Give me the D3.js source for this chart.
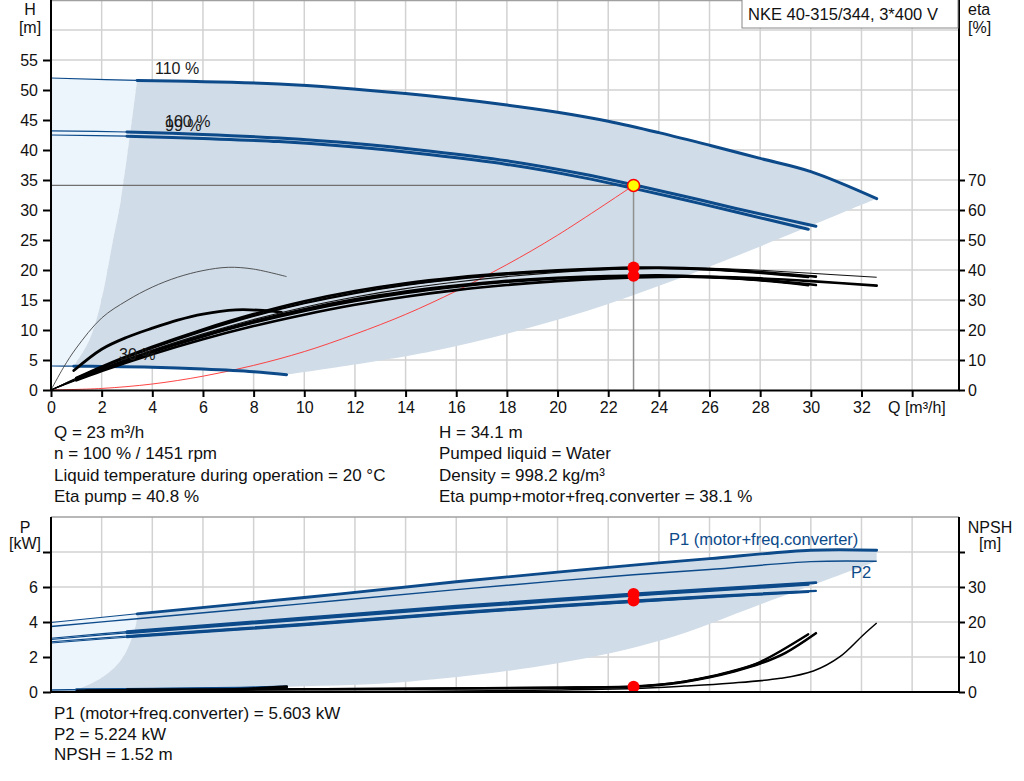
<!DOCTYPE html>
<html>
<head>
<meta charset="utf-8">
<script src="https://cdn.jsdelivr.net/npm/d3@7"></script>
<style>
  body { margin: 0; background: #fff; }
  text { font-family: "Liberation Sans", Arial, sans-serif; }
</style>
</head>
<body>
<div id="chart"></div>
<script>
// ---- data ----
const qTicks = [0, 2, 4, 6, 8, 10, 12, 14, 16, 18, 20, 22, 24, 26, 28, 30, 32, 34];
const hTicks = [0, 5, 10, 15, 20, 25, 30, 35, 40, 45, 50, 55];
const etaTicks = [0, 10, 20, 30, 40, 50, 60, 70];
const pTicks = [0, 2, 4, 6, 8];
const npshTicks = [0, 10, 20, 30, 40];

// Q-H curves [Q m3/h, H m]
const h110 = [[0, 52], [3.4, 51.6], [9, 51], [14, 49.4], [18, 47.5], [20, 46.3], [22, 44.8], [24, 42.9], [26, 40.8], [28, 38.6], [30, 36.4], [32.6, 31.9]];
const h100 = [[0, 43.2], [3, 43.0], [6, 42.6], [9, 42.0], [12, 41.1], [15, 39.8], [18, 38.2], [21, 36.0], [23, 34.2], [25, 32.3], [27, 30.3], [30.2, 27.3]];
const h99 = [[0, 42.5], [3, 42.3], [6, 41.9], [9, 41.4], [12, 40.5], [15, 39.2], [18, 37.6], [21, 35.4], [23, 33.6], [25, 31.7], [27, 29.7], [29.9, 26.8]];
const h30 = [[0, 4.0], [0.9, 3.97], [2, 3.93], [4, 3.8], [6, 3.5], [8, 3.05], [9.3, 2.55]];

// operating range edges
const minFlowH = [[0.9, 3.97], [1.51, 8.3], [1.93, 13.9], [2.45, 25], [2.76, 31.7], [3.4, 51.6]];
const maxFlowH = [[32.6, 31.9], [24.8, 18.6], [20, 11.7], [15, 6.4], [9.3, 2.55]];

// efficiency curves [Q, eta %]
const etaPump100 = [[0, 0], [1, 4], [2, 7.8], [4, 14.4], [6, 20.2], [8, 25.3], [10, 29.6], [12, 33], [14, 35.6], [16, 37.5], [18, 38.9], [20, 39.9], [22, 40.6], [23, 40.8], [24, 40.8], [26, 40.3], [28, 39.3], [30.2, 37.8]];
const etaPump99 = [[0, 0], [1, 3.9], [2, 7.6], [4, 14.0], [6, 19.7], [8, 24.7], [10, 28.9], [12, 32.3], [14, 35.0], [16, 37.0], [18, 38.5], [20, 39.6], [22, 40.3], [23, 40.5], [24, 40.6], [26, 40.1], [28, 39.0], [29.9, 37.6]];
const etaTotal100 = [[0, 0], [1, 3.5], [2, 6.9], [4, 12.9], [6, 18.2], [8, 22.9], [10, 26.9], [12, 30.2], [14, 32.8], [16, 34.8], [18, 36.4], [20, 37.4], [22, 38.0], [23, 38.1], [24, 38.2], [26, 37.7], [28, 36.7], [30.2, 35.0]];
const etaTotal99 = [[0, 0], [1, 3.4], [2, 6.7], [4, 12.6], [6, 17.8], [8, 22.4], [10, 26.3], [12, 29.6], [14, 32.3], [16, 34.4], [18, 36.0], [20, 37.1], [22, 37.7], [23, 37.9], [24, 37.9], [26, 37.5], [28, 36.5], [29.9, 34.9]];
const etaPump110 = [[0, 0], [1, 3.6], [2, 7.1], [4, 13.3], [6, 18.7], [8, 23.5], [10, 27.6], [12, 31.0], [14, 33.8], [16, 36.0], [18, 37.8], [20, 39.2], [22, 40.2], [24, 40.8], [26, 40.6], [28, 39.9], [30, 38.9], [32.6, 37.6]];
const etaTotal110 = [[0, 0], [1, 3.2], [2, 6.3], [4, 11.9], [6, 16.9], [8, 21.3], [10, 25.1], [12, 28.4], [14, 31.1], [16, 33.3], [18, 35.0], [20, 36.3], [22, 37.2], [24, 37.7], [26, 37.7], [28, 37.2], [30, 36.3], [32.6, 34.8]];
const etaPump30 = [[0, 0], [0.5, 7.6], [1, 14], [2, 24], [3, 29.8], [4, 34.3], [5, 37.6], [6, 39.8], [7, 40.9], [8, 40.3], [9.3, 37.8]];
const etaTotal30 = [[0.9, 6.5], [2, 13.6], [3, 17.6], [4, 20.6], [5, 23.3], [6, 25.3], [7.3, 26.7], [8.2, 26.6], [9.1, 25.9]];

// system curve [Q, H]
const sysCurve = [[0, 0], [2, 0.26], [4, 1.0], [6, 2.3], [8, 4.1], [10, 6.4], [12, 9.3], [14, 12.6], [16, 16.5], [18, 20.9], [20, 25.8], [23, 34.1]];

// duty point
const opQ = 23, opH = 34.1, opEtaPump = 40.8, opEtaTotal = 38.1;
const opP1 = 5.603, opP2 = 5.224, opNpsh = 1.52;

// power curves [Q, kW]
const p1_110 = [[0, 3.97], [3.4, 4.47], [10, 5.4], [16, 6.3], [20, 6.85], [23, 7.25], [26, 7.62], [30, 8.1], [32.6, 8.1]];
const p2_110 = [[0, 3.74], [3.4, 4.19], [10, 5.05], [16, 5.85], [20, 6.35], [23, 6.7], [26, 7.0], [30, 7.45], [32.6, 7.47]];
const p1_100 = [[0, 3.07], [3, 3.45], [10, 4.23], [16, 4.9], [20, 5.3], [23, 5.6], [26, 5.88], [30.2, 6.25]];
const p1_99 = [[0, 3.0], [3, 3.38], [10, 4.15], [16, 4.82], [20, 5.22], [23, 5.52], [26, 5.79], [29.9, 6.14]];
const p2_100 = [[0, 2.87], [3, 3.2], [10, 3.89], [16, 4.55], [20, 4.95], [23, 5.22], [26, 5.48], [30.2, 5.78]];
const p2_99 = [[0, 2.8], [3, 3.13], [10, 3.82], [16, 4.47], [20, 4.87], [23, 5.14], [26, 5.4], [29.9, 5.72]];
const p_30 = [[0, 0.12], [1, 0.13], [4, 0.16], [7.5, 0.22], [9.3, 0.28]];

const minFlowP = [[1.0, 0.13], [1.14, 0.2], [2.07, 0.88], [2.85, 2.0], [3.38, 4.0], [3.4, 4.47]];
const maxFlowP = [[32.6, 7.47], [28, 5.0], [24.2, 3.0], [20, 1.64], [14.2, 0.6], [9.3, 0.3], [1.0, 0.13]];

// NPSH curves [Q, m]
const npsh100 = [[1, 0.5], [3, 0.6], [10, 0.77], [16, 1.0], [20, 1.2], [23, 1.52], [24, 2.0], [25, 2.9], [26, 4.2], [27, 5.9], [28, 8.1], [29, 11.2], [30.2, 16.8]];
const npsh99 = [[1, 0.5], [3, 0.6], [10, 0.78], [16, 1.02], [20, 1.25], [23, 1.6], [24, 2.1], [25, 3.0], [26, 4.4], [27, 6.2], [28, 8.6], [29.9, 16.5]];
const npsh110 = [[8.6, 0.1], [12, 0.12], [16, 0.3], [20, 0.6], [23, 1.0], [25, 1.7], [26.8, 2.5], [28.8, 3.9], [30.1, 6.0], [31.15, 10.1], [32.07, 16.3], [32.6, 19.7]];
const npsh30 = [[1.4, 0.3], [4, 0.35], [7, 0.6], [9.3, 1.5]];

const infoTop = [
  ["Q = 23 m³/h", "H = 34.1 m"],
  ["n = 100 % / 1451 rpm", "Pumped liquid = Water"],
  ["Liquid temperature during operation = 20 °C", "Density = 998.2 kg/m³"],
  ["Eta pump = 40.8 %", "Eta pump+motor+freq.converter = 38.1 %"]
];
const infoBottom = ["P1 (motor+freq.converter) = 5.603 kW", "P2 = 5.224 kW", "NPSH = 1.52 m"];

// ---- drawing ----
const width = 1024, height = 781;
const blue = "#0c4a8a";
const gridColor = "#d2d2d2";

const svg = d3.select("#chart").append("svg")
    .attr("width", width)
    .attr("height", height);

const x = d3.scaleLinear().domain([0, 35.85]).range([51, 959]);
const yH = d3.scaleLinear().domain([0, 65]).range([390, 0]);
const yEta = d3.scaleLinear().domain([0, 130]).range([390, 0]);
const yP = d3.scaleLinear().domain([0, 10]).range([692, 517]);
const yN = d3.scaleLinear().domain([0, 50]).range([692, 517]);

const lineOf = (sy) => d3.line()
    .x(d => x(d[0]))
    .y(d => sy(d[1]))
    .curve(d3.curveCatmullRom.alpha(0.5));

const joinPath = (pieces, sy) => pieces.map((p, i) => {
    const s = lineOf(sy)(p);
    return i ? "L" + s.slice(1) : s;
}).join("") + "Z";

// grids
const grid = svg.append("g");
[[0, 390], [517, 692]].forEach(([y0, y1]) => {
    grid.selectAll(null).data(qTicks.slice(1)).enter().append("line")
        .attr("x1", d => x(d)).attr("x2", d => x(d))
        .attr("y1", y0).attr("y2", y1)
        .attr("stroke", gridColor).attr("stroke-width", 1.5);
});
grid.selectAll(null).data(d3.range(5, 65, 5)).enter().append("line")
    .attr("x1", x(0)).attr("x2", x.range()[1])
    .attr("y1", d => yH(d)).attr("y2", d => yH(d))
    .attr("stroke", gridColor).attr("stroke-width", 1.5);
grid.selectAll(null).data([2, 4, 6, 8]).enter().append("line")
    .attr("x1", x(0)).attr("x2", x.range()[1])
    .attr("y1", d => yP(d)).attr("y2", d => yP(d))
    .attr("stroke", gridColor).attr("stroke-width", 1.5);
// top borders
[0.5, 517].forEach(yy => {
    svg.append("line").attr("x1", x(0)).attr("x2", 959).attr("y1", yy).attr("y2", yy)
        .attr("stroke", "#a0a0a0").attr("stroke-width", 1.5);
});

// operating ranges, upper chart
const topG = svg.append("g");
topG.append("path")
    .attr("d", joinPath([h110.filter(d => d[0] <= 3.4), minFlowH.slice().reverse(), [[0.9, 3.97], [0, 4.0]]], yH))
    .attr("fill", "#ecf4fc");
topG.append("path")
    .attr("d", joinPath([h110.filter(d => d[0] >= 3.4), maxFlowH, h30.filter(d => d[0] >= 0.9).reverse(), minFlowH], yH))
    .attr("fill", "#d0dce8");

// operating ranges, lower chart
const botG = svg.append("g");
botG.append("path")
    .attr("d", joinPath([p1_110.filter(d => d[0] <= 3.4), minFlowP.slice().reverse(), [[1.0, 0.13], [0, 0.12]]], yP))
    .attr("fill", "#ecf4fc");
botG.append("path")
    .attr("d", joinPath([p1_110.filter(d => d[0] >= 3.4), maxFlowP, minFlowP], yP))
    .attr("fill", "#d0dce8");

function curve(g, data, sy, color, thinW, thickW, thickFrom) {
    g.append("path")
        .attr("d", lineOf(sy)(data))
        .attr("fill", "none")
        .attr("stroke", color)
        .attr("stroke-width", thinW);
    if (thickW) {
        g.append("path")
            .attr("d", lineOf(sy)(data.filter(d => d[0] >= thickFrom)))
            .attr("fill", "none")
            .attr("stroke", color)
            .attr("stroke-width", thickW)
            .attr("stroke-linecap", "round");
    }
}

// guide lines to duty point
topG.append("line")
    .attr("x1", x(0)).attr("x2", x(opQ)).attr("y1", yH(opH)).attr("y2", yH(opH))
    .attr("stroke", "#707070").attr("stroke-width", 1.2);
topG.append("line")
    .attr("x1", x(opQ)).attr("x2", x(opQ)).attr("y1", yH(opH)).attr("y2", yH(0))
    .attr("stroke", "#909090").attr("stroke-width", 1.5);

// system curve
topG.append("path")
    .attr("d", lineOf(yH)(sysCurve))
    .attr("fill", "none").attr("stroke", "#ff3030").attr("stroke-width", 0.9);

// Q-H curves
curve(topG, h110, yH, blue, 1.2, 3, 3.4);
curve(topG, h100, yH, blue, 1.2, 3, 3.0);
curve(topG, h99, yH, blue, 1.2, 3, 3.0);
curve(topG, h30, yH, blue, 1.2, 3, 0.9);

// eta curves
curve(topG, etaPump30, yEta, "#444", 0.9);
curve(topG, etaTotal30, yEta, "#000", 1, 2.8, 0.9);
curve(topG, etaPump110, yEta, "#111", 1.1);
curve(topG, etaTotal110, yEta, "#000", 1, 2.6, 1);
curve(topG, etaPump100, yEta, "#000", 1, 2.6, 1);
curve(topG, etaPump99, yEta, "#000", 1, 2.2, 1);
curve(topG, etaTotal100, yEta, "#000", 1, 2.6, 1);
curve(topG, etaTotal99, yEta, "#000", 1, 2.2, 1);

// curve labels (100 % and 99 % overlap in the original as well)
const lbl = [["110 %", 155, 74], ["100 %", 165, 127], ["99 %", 165, 131], ["30 %", 119, 360]];
topG.selectAll(null).data(lbl).enter().append("text")
    .text(d => d[0]).attr("x", d => d[1]).attr("y", d => d[2])
    .attr("font-size", 16).attr("fill", "#1a1a1a");

// duty point markers
[opEtaPump, opEtaTotal].forEach(v => {
    topG.append("circle").attr("cx", x(opQ)).attr("cy", yEta(v)).attr("r", 6).attr("fill", "#ff0000");
});
topG.append("circle").attr("cx", x(opQ)).attr("cy", yH(opH)).attr("r", 6)
    .attr("fill", "#ffff00").attr("stroke", "#ff0000").attr("stroke-width", 1.5);

// lower chart curves
curve(botG, p_30, yP, blue, 1.5, 3, 1.0);
curve(botG, npsh30, yN, "#000", 1, 3, 1.4);
curve(botG, npsh110, yN, "#000", 1.5);
curve(botG, npsh99, yN, "#000", 1.2, 2.2, 3);
curve(botG, npsh100, yN, "#000", 1.2, 2.6, 3);
curve(botG, p2_110, yP, blue, 1.5);
curve(botG, p1_110, yP, blue, 1.2, 2.8, 3.4);
curve(botG, p2_99, yP, blue, 1.2, 2, 3);
curve(botG, p2_100, yP, blue, 1.2, 2.2, 3);
curve(botG, p1_99, yP, blue, 1.2, 2.6, 3);
curve(botG, p1_100, yP, blue, 1.2, 2.8, 3);

[yP(opP1), yP(opP2), yN(opNpsh)].forEach(cy => {
    botG.append("circle").attr("cx", x(opQ)).attr("cy", cy).attr("r", 6).attr("fill", "#ff0000");
});

botG.append("text").text("P1 (motor+freq.converter)")
    .attr("x", 669).attr("y", 545).attr("font-size", 16.5).attr("fill", blue);
botG.append("text").text("P2")
    .attr("x", 851).attr("y", 578).attr("font-size", 16.5).attr("fill", blue);

// axes
function styleAxis(g) {
    g.select(".domain").attr("stroke", "#000").attr("stroke-width", 2);
    g.selectAll(".tick line").attr("stroke", "#000").attr("stroke-width", 2);
    g.selectAll(".tick text").attr("font-size", 16).attr("fill", "#111")
        .style("font-family", "'Liberation Sans', Arial, sans-serif");
}

svg.append("g").attr("transform", `translate(${x(0)},0)`)
    .call(d3.axisLeft(yH).tickValues(hTicks).tickSize(8).tickPadding(5).tickSizeOuter(0))
    .call(styleAxis)
    .call(g => g.select(".domain").attr("d", "M0,0V390"));

svg.append("g").attr("transform", `translate(959,0)`)
    .call(d3.axisRight(yEta).tickValues(etaTicks).tickSize(6).tickPadding(3).tickSizeOuter(0))
    .call(styleAxis)
    .call(g => g.select(".domain").attr("d", "M0,0V390"));

svg.append("g").attr("transform", `translate(0,390)`)
    .call(d3.axisBottom(x).tickValues(qTicks).tickSize(7).tickPadding(5).tickSizeOuter(0)
        .tickFormat(d => d === 34 ? "" : d))
    .call(styleAxis);

svg.append("g").attr("transform", `translate(${x(0)},0)`)
    .call(d3.axisLeft(yP).tickValues(pTicks).tickSize(8).tickPadding(5).tickSizeOuter(0)
        .tickFormat(d => d === 8 ? "" : d))
    .call(styleAxis)
    .call(g => g.select(".domain").attr("d", "M0,517V692"));

svg.append("g").attr("transform", `translate(959,0)`)
    .call(d3.axisRight(yN).tickValues(npshTicks).tickSize(6).tickPadding(3).tickSizeOuter(0)
        .tickFormat(d => d === 40 ? "" : d))
    .call(styleAxis)
    .call(g => g.select(".domain").attr("d", "M0,517V692"));

svg.append("line").attr("x1", x(0)).attr("x2", 959).attr("y1", 692).attr("y2", 692)
    .attr("stroke", "#000").attr("stroke-width", 2);

// axis titles
const titles = [
    ["H", 30, 15, "middle"], ["[m]", 30, 33, "middle"],
    ["eta", 968, 15, "start"], ["[%]", 968, 33, "start"],
    ["Q [m³/h]", 888, 413, "start"],
    ["P", 25, 533, "middle"], ["[kW]", 25, 549, "middle"],
    ["NPSH", 990, 533, "middle"], ["[m]", 990, 549, "middle"]
];
svg.selectAll(null).data(titles).enter().append("text")
    .text(d => d[0]).attr("x", d => d[1]).attr("y", d => d[2])
    .attr("text-anchor", d => d[3]).attr("font-size", 16).attr("fill", "#111");

// product box
svg.append("rect").attr("x", 742).attr("y", -1).attr("width", 216).attr("height", 29)
    .attr("fill", "#fff").attr("stroke", "#888").attr("stroke-width", 1);
svg.append("text").text("NKE 40-315/344, 3*400 V")
    .attr("x", 748).attr("y", 20).attr("font-size", 16.5).attr("fill", "#111");

// info text
infoTop.forEach((row, i) => {
    svg.append("text").text(row[0]).attr("x", 54).attr("y", 438 + i * 21.3)
        .attr("font-size", 17).attr("fill", "#111");
    svg.append("text").text(row[1]).attr("x", 439).attr("y", 438 + i * 21.3)
        .attr("font-size", 17).attr("fill", "#111");
});
infoBottom.forEach((t, i) => {
    svg.append("text").text(t).attr("x", 54).attr("y", 719 + i * 20.5)
        .attr("font-size", 17).attr("fill", "#111");
});
</script>
</body>
</html>
